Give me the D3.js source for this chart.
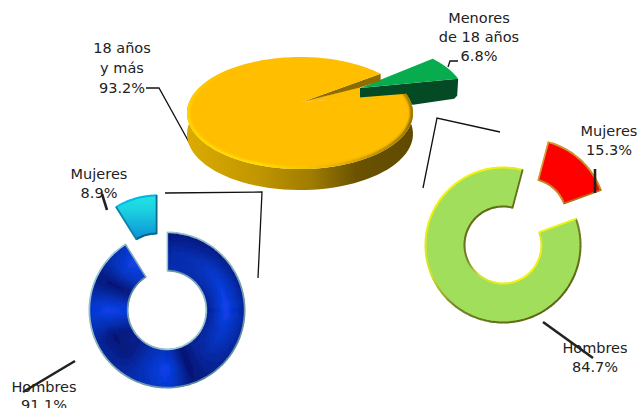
<!DOCTYPE html>
<html><head><meta charset="utf-8">
<script src="https://cdnjs.cloudflare.com/ajax/libs/d3/7.8.5/d3.min.js"></script>
<style>html,body{margin:0;padding:0;background:#fff;overflow:hidden}svg{display:block}
text{font-family:"DejaVu Sans",sans-serif;font-size:14.5px;fill:#222;text-anchor:middle}</style>
</head><body><svg id="c" width="637" height="408"></svg>
<script>
const edadCategorias = ["Menores de 18 años", "18 años y más"];
const edadValores = [6.8, 93.2];
const ringCategorias = ["Hombres", "Mujeres"];
const adultosValores = [91.1, 8.9];
const menoresValores = [84.7, 15.3];

const svg = d3.select("#c");
const rad = d => d * Math.PI / 180;
const defs = svg.append("defs");
const blurF=(id,s)=>defs.append("filter").attr("id",id).attr("x","-15%").attr("y","-15%").attr("width","130%").attr("height","130%")
  .append("feGaussianBlur").attr("stdDeviation",s);
blurF("soft",0.5); blurF("soft2",0.9); blurF("soft3",1.5);
const sideG = defs.append("linearGradient").attr("id","side").attr("gradientUnits","userSpaceOnUse")
  .attr("x1",187).attr("x2",413).attr("y1",0).attr("y2",0);
[[0,"#dcab00"],[.3,"#c29700"],[.55,"#a07c00"],[.75,"#6a5200"],[1,"#5f4a00"]]
  .forEach(s=>sideG.append("stop").attr("offset",s[0]).attr("stop-color",s[1]));
const cy = defs.append("linearGradient").attr("id","cyan").attr("x1",0).attr("x2",0).attr("y1",0).attr("y2",1);
[[0,"#1fe6e2"],[.35,"#1ccfe0"],[1,"#0a8fd6"]].forEach(s=>cy.append("stop").attr("offset",s[0]).attr("stop-color",s[1]));

/* ---------- connector lines (behind) ---------- */
const line = d3.line();
const thin = [
  [[146,88],[159,88],[195,153]],
  [[448,67],[450,61],[458,61]],
  [[165,193],[262,192],[258,278]],
  [[423,188],[437,118],[500,132]]
];
thin.forEach(p=>svg.append("path").attr("d",line(p)).attr("fill","none").attr("stroke","#111").attr("stroke-width",1.3));

/* ---------- 3D pie ---------- */
const P = {cx:300, cy:113, rx:113, ry:56, depth:21, apex:[302,102], ex:[52,-15], apexDepth:10};
const rim = (a,dx=0,dy=0,k=1)=>[P.cx+dx+k*P.rx*Math.sin(a), P.cy+dy-k*P.ry*Math.cos(a)];
const sweep = (a0,a1,f)=>d3.range(0,61).map(i=>f(a0+(a1-a0)*i/60));
const [sMen, sAd] = d3.pie().sort(null).startAngle(rad(45.5)).endAngle(rad(405.5))(edadValores);

// green slice
const gRim = sweep(sMen.startAngle,sMen.endAngle,a=>rim(a,P.ex[0],P.ex[1]));
const gApex = [P.apex[0]+58, P.apex[1]-14];
const gEnd = gRim[gRim.length-1];
svg.append("path").attr("fill","#044a25").attr("d",line([
  gApex, gEnd, [gEnd[0]-1,gEnd[1]+17], [gEnd[0]-4,gEnd[1]+20], [gEnd[0]-45,gEnd[1]+26], [gApex[0],gApex[1]+P.apexDepth]
])+"Z");
svg.append("path").attr("fill","#06ac4e").attr("d",line([gApex,...gRim])+"Z");

// orange: outer side
const sideA0 = sAd.startAngle, sideA1 = rad(292);
svg.append("path").attr("fill","url(#side)").attr("d",line([
  ...sweep(sideA0,sideA1,a=>rim(a)),
  ...sweep(sideA1,sideA0,a=>rim(a,0,P.depth))
])+"Z");
// orange: inner wall and filler
const rimS = rim(sMen.startAngle);
svg.append("path").attr("fill","#fdbd00").attr("d",line([P.apex,[gApex[0],gApex[1]-1],[gApex[0],gApex[1]+P.apexDepth]])+"Z");
svg.append("path").attr("fill","#8f6c00").attr("d",line([P.apex,rimS,[rimS[0],rimS[1]+7],[gApex[0],gApex[1]-0.5]])+"Z");
// orange: top
const topPath = line([P.apex, ...d3.range(0,181).map(i=>rim(sAd.startAngle+(sAd.endAngle-sAd.startAngle)*i/180))])+"Z";
svg.append("path").attr("fill","#ffbe00").attr("d",topPath);
// orange: bevel (soft, clipped to the top face)
defs.append("clipPath").attr("id","topClip").append("path").attr("d",topPath);
const topBevel = d3.scaleLinear().domain([60,100,130,165,200,250,285,320]).range(["#a67c00","#7f6000","#a88200","#eeba00","#ffe400","#ffdc00","#ffd000","#ffbe00"]);
const bev = svg.append("g").attr("clip-path","url(#topClip)").append("g").attr("filter","url(#soft2)");
d3.range(68,320,4).forEach(d=>{
  bev.append("path").attr("fill","none").attr("stroke",topBevel(d)).attr("stroke-width",3.4)
    .attr("d",line(d3.range(0,5).map(i=>rim(rad(d+i),0,0,0.99))));
});

/* ---------- rings ---------- */
const arc = d3.arc();
function bevel(seg, c, inner, outer, col, w){
  const g = svg.append("g").attr("transform",`translate(${c[0]},${c[1]})`).attr("filter","url(#soft)");
  const L=[-0.6,-0.8];
  const n0=(seg.endAngle-seg.startAngle)/rad(3);
  for(let i=0;i<n0;i++){
    const a=seg.startAngle+i*rad(3), b=Math.min(a+rad(3.4),seg.endAngle), m=(a+b)/2;
    const dot=Math.sin(m)*L[0]-Math.cos(m)*L[1];
    g.append("path").attr("fill",col(dot)).attr("d",arc({innerRadius:outer-w,outerRadius:outer+0.5,startAngle:a,endAngle:b}));
    g.append("path").attr("fill",col(-dot)).attr("d",arc({innerRadius:inner-0.5,outerRadius:inner+w,startAngle:a,endAngle:b}));
  }
  [[seg.startAngle,-1],[seg.endAngle,1]].forEach(([a,s])=>{
    const nx=s*Math.cos(a), ny=s*Math.sin(a);
    g.append("path").attr("stroke",col(nx*L[0]+ny*L[1])).attr("stroke-width",w+.3).attr("fill","none")
      .attr("d",line([[inner*Math.sin(a)-s*Math.cos(a)*0.4,-inner*Math.cos(a)-s*Math.sin(a)*0.4],
                      [outer*Math.sin(a)-s*Math.cos(a)*0.4,-outer*Math.cos(a)-s*Math.sin(a)*0.4]]));
  });
}

/* blue ring */
const B={c:[167,310],R:78,r:39,off:[-10,-37]};
const [bH,bM]=d3.pie().sort(null).startAngle(0).endAngle(2*Math.PI)(adultosValores);
const angB =[0,  30, 60, 90,120,145,160,180,200,222,245,270,295,312,328];
const shIn =[.5,.45,.3,.15,.3,.25,.03,.55,.5,.2,.25,.85,.1,.55,.75];
const shMid=[.38,.5,.8,1,.65,.3,.02,1,.6,.12,.05,1,.03,.7,1];
const shOut=[.08,.12,.2,.3,.3,.25,.08,.8,.5,.35,.35,.75,.12,.45,.55];
const fA=v=>d3.scaleLinear().domain(angB).range(v).clamp(true);
const fIn=fA(shIn),fMid=fA(shMid),fOut=fA(shOut);
const blue=d3.scaleLinear().domain([0,.5,1]).range(["#000d6c","#022bb2","#0a40f0"]);
const ringPath=arc({innerRadius:B.r,outerRadius:B.R,startAngle:bH.startAngle,endAngle:bH.endAngle});
defs.append("clipPath").attr("id","blueClip").append("path").attr("d",ringPath);
const rB=svg.append("g").attr("transform",`translate(${B.c})`).attr("clip-path","url(#blueClip)")
  .append("g").attr("filter","url(#soft3)");
for(let a=bH.startAngle-rad(9);a<bH.endAngle+rad(9);a+=rad(3)){
  const e=a+rad(3), m=(a+e)/2/Math.PI*180;
  for(let r=B.r-6;r<B.R+6;r+=3){
    const u=Math.max(0,Math.min(1,(r+1.5-B.r)/(B.R-B.r)));
    const t=u<.5?fIn(m)+(fMid(m)-fIn(m))*u*2:fMid(m)+(fOut(m)-fMid(m))*(u-.5)*2;
    const col=blue(t);
    rB.append("path").attr("fill",col).attr("stroke",col).attr("stroke-width",.6)
      .attr("d",arc({innerRadius:r,outerRadius:r+3,startAngle:a,endAngle:e}));
  }
}
const blueBev=d3.scaleLinear().domain([-1,0,1]).range(["#5f8a98","#86aebb","#9ccad4"]);
bevel(bH,B.c,B.r,B.R,blueBev,1.2);
const cB=[B.c[0]+B.off[0],B.c[1]+B.off[1]];
svg.append("path").attr("transform",`translate(${cB})`).attr("fill","url(#cyan)")
  .attr("d",arc({innerRadius:B.r,outerRadius:B.R,startAngle:bM.startAngle,endAngle:bM.endAngle}));
bevel(bM,cB,B.r,B.R,d3.scaleLinear().domain([-1,0,1]).range(["#075f7c","#0a7fa0","#06bdf0"]),1.5);

/* green ring */
const G={c:[503,245],R:78,r:38,off:[25,-28]};
const [gH,gM]=d3.pie().sort(null).startAngle(rad(70)).endAngle(rad(430))(menoresValores);
svg.append("path").attr("transform",`translate(${G.c})`).attr("fill","#a0de5c")
  .attr("d",arc({innerRadius:G.r,outerRadius:G.R,startAngle:gH.startAngle,endAngle:gH.endAngle}));
bevel(gH,G.c,G.r,G.R,d3.scaleLinear().domain([-1,-.25,.25,1]).range(["#5c6614","#76852a","#d4e02c","#f4f40a"]),1.5);
const cG=[G.c[0]+G.off[0],G.c[1]+G.off[1]];
svg.append("path").attr("transform",`translate(${cG})`).attr("fill","#ff0000")
  .attr("d",arc({innerRadius:G.r,outerRadius:G.R,startAngle:gM.startAngle,endAngle:gM.endAngle}));
bevel(gM,cG,G.r,G.R,d3.scaleLinear().domain([-1,0,1]).range(["#a8741a","#c8902a","#dca030"]),1.4);

/* ---------- thick leaders ---------- */
const thick=[[[102,194],[107,210]],[[75,361],[23,392]],[[543,322],[593,358]],[[595,169],[595,193]]];
thick.forEach(p=>svg.append("path").attr("d",line(p)).attr("fill","none").attr("stroke","#222").attr("stroke-width",2.6));

/* ---------- labels ---------- */
const labels=[
  {x:479,y:[23,42,61],t:["Menores","de 18 años","6.8%"]},
  {x:122,y:[53,73,93],t:["18 años","y más","93.2%"]},
  {x:99,y:[179,197.5],t:["Mujeres","8.9%"]},
  {x:44,y:[392,410],t:["Hombres","91.1%"]},
  {x:609,y:[136,155],t:["Mujeres","15.3%"]},
  {x:595,y:[353,372],t:["Hombres","84.7%"]}
];
labels.forEach(l=>l.t.forEach((s,i)=>svg.append("text").attr("x",l.x).attr("y",l.y[i]).text(s)));
</script></body></html>
